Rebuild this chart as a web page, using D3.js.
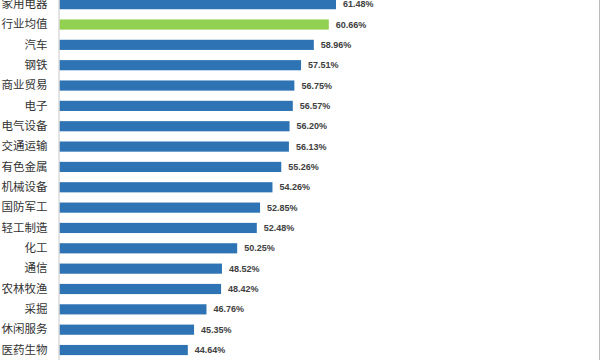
<!DOCTYPE html>
<html><head><meta charset="utf-8">
<script src="https://cdn.jsdelivr.net/npm/d3@7"></script>
<style>body{margin:0;background:#fff}svg{display:block}</style>
</head><body>
<svg id="c" width="600" height="360"></svg>
<script>
const categories = ["家用电器","行业均值","汽车","钢铁","商业贸易","电子","电气设备","交通运输","有色金属","机械设备","国防军工","轻工制造","化工","通信","农林牧渔","采掘","休闲服务","医药生物"];
const values = [61.48,60.66,58.96,57.51,56.75,56.57,56.20,56.13,55.26,54.26,52.85,52.48,50.25,48.52,48.42,46.76,45.35,44.64];
const highlight = "行业均值";

const svg = d3.select("#c");
const x = d3.scaleLinear().domain([30, 61.48]).range([59, 336]);
const y = d3.scaleBand().domain(categories).range([-6, 360.2]).paddingInner(0.5).paddingOuter(0.25);

svg.append("rect").attr("x",0).attr("y",0).attr("width",600).attr("height",360).attr("fill","#fff");
svg.append("line").attr("x1",599.5).attr("x2",599.5).attr("y1",0).attr("y2",360).attr("stroke","#bbb");

svg.selectAll("rect.bar").data(categories).join("rect").attr("class","bar")
  .attr("x", x(30)+0.5)
  .attr("y", d => y(d))
  .attr("width", (d,i) => x(values[i]) - x(30) - 0.5)
  .attr("height", y.bandwidth())
  .attr("fill", d => d === highlight ? "#92D050" : "#2E74B5");

const yAxis = svg.append("g").attr("transform","translate(58.5,0)")
  .call(d3.axisLeft(y).tickSize(0).tickPadding(11));
yAxis.select(".domain").attr("stroke","#c8c8c8");
yAxis.selectAll("text").attr("font-family","'Noto Sans CJK SC', sans-serif").attr("font-size",11.5).attr("fill","#333");

svg.selectAll("text.val").data(categories).join("text").attr("class","val")
  .attr("x",(d,i) => x(values[i]) + 7)
  .attr("y", d => y(d) + y.bandwidth()/2)
  .attr("dy","0.35em")
  .attr("font-family","'Liberation Sans', Arial, sans-serif")
  .attr("font-weight","bold")
  .attr("font-size",9)
  .attr("fill","#404040")
  .text((d,i) => values[i].toFixed(2) + "%");
</script>
</body></html>
